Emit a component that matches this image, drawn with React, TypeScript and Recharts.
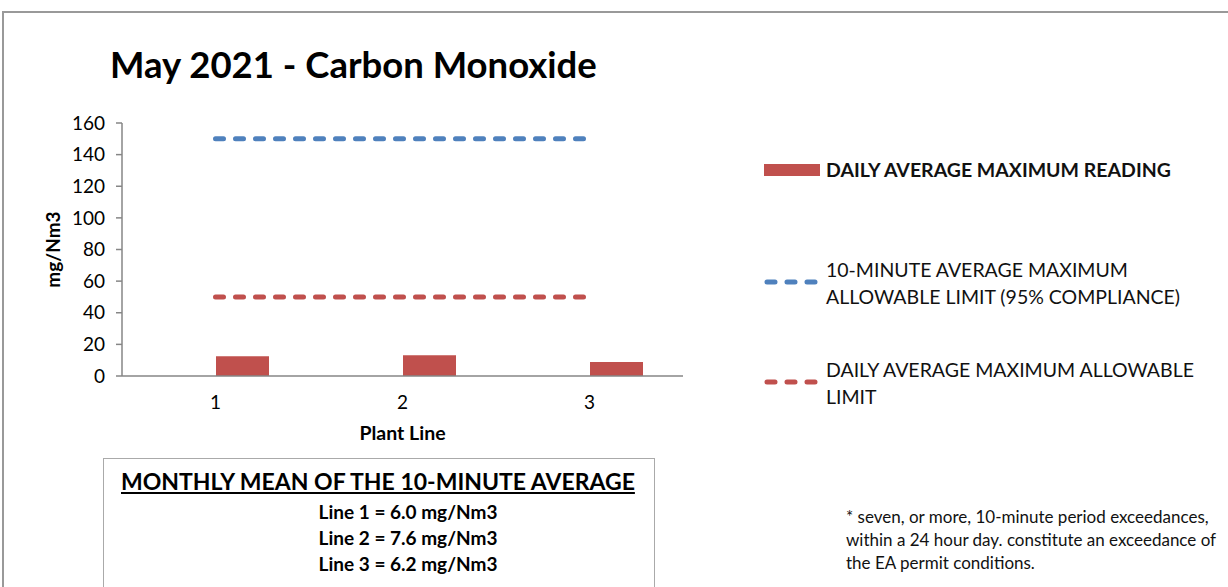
import React from "react"
import {
  ComposedChart,
  Bar,
  Line,
  XAxis,
  YAxis,
  Label,
} from "recharts"

// chart values
const plantLines = ["1", "2", "3"]
const dailyAvgMaxReading = [12.5, 13.2, 8.9]
const tenMinuteLimit = [150, 150, 150]
const dailyAvgLimit = [50, 50, 50]
const yTicks = [0, 20, 40, 60, 80, 100, 120, 140, 160]

const monthlyMeanLines = [
  "Line 1 = 6.0 mg/Nm3",
  "Line 2 = 7.6 mg/Nm3",
  "Line 3 = 6.2 mg/Nm3",
]

const RED = "#C0504D"
const BLUE = "#4F81BD"
const FONT = "Lato, 'Open Sans', sans-serif"

const chartData = plantLines.map((line, i) => ({
  line,
  spacer: 0,
  reading: dailyAvgMaxReading[i],
  tenMin: tenMinuteLimit[i],
  daily: dailyAvgLimit[i],
}))

/** legend drawn to look like the Excel one */
function ChartLegend() {
  const dash = (color: string) => (
    <svg width={58} height={8} style={{ flexShrink: 0 }}>
      <line
        x1={3}
        y1={4}
        x2={55}
        y2={4}
        stroke={color}
        strokeWidth={5}
        strokeDasharray="8 12"
        strokeLinecap="round"
      />
    </svg>
  )
  return (
    <div style={{ fontFamily: FONT, fontSize: 19.5, color: "#111", lineHeight: "27px" }}>
      <div style={{ display: "flex", alignItems: "center", height: 27 }}>
        <div style={{ width: 56, height: 12, background: RED, marginRight: 6 }} />
        <span style={{ fontWeight: 700 }}>DAILY AVERAGE MAXIMUM READING</span>
      </div>
      <div style={{ display: "flex", alignItems: "flex-start", marginTop: 73 }}>
        <div style={{ paddingTop: 9, marginRight: 4 }}>{dash(BLUE)}</div>
        <span>
          10-MINUTE AVERAGE MAXIMUM
          <br />
          ALLOWABLE LIMIT (95% COMPLIANCE)
        </span>
      </div>
      <div style={{ display: "flex", alignItems: "flex-start", marginTop: 46 }}>
        <div style={{ paddingTop: 9, marginRight: 4 }}>{dash(RED)}</div>
        <span>
          DAILY AVERAGE MAXIMUM ALLOWABLE
          <br />
          LIMIT
        </span>
      </div>
    </div>
  )
}

export default function App() {
  return (
    <div
      style={{
        position: "absolute",
        left: 0,
        top: 0,
        width: 1228,
        height: 587,
        background: "#fff",
        overflow: "hidden",
        fontFamily: FONT,
      }}
    >
      {/* outer frame */}
      <div
        style={{
          position: "absolute",
          left: 2,
          top: 11,
          width: 1240,
          height: 600,
          border: "2px solid #999",
          borderRight: "none",
          borderBottom: "none",
        }}
      />

      <div
        style={{
          position: "absolute",
          left: 110,
          top: 42,
          fontSize: 36.5,
          fontWeight: 700,
          color: "#000",
          whiteSpace: "nowrap",
        }}
      >
        May 2021 - Carbon Monoxide
      </div>

      <div style={{ position: "absolute", left: 0, top: 0 }}>
        <ComposedChart
          width={700}
          height={460}
          data={chartData}
          margin={{ top: 123, right: 17, left: 0, bottom: 0 }}
          barGap={0}
          barCategoryGap={40}
        >
          <XAxis
            dataKey="line"
            height={84}
            tickLine={false}
            axisLine={{ stroke: "#868686", strokeWidth: 1.5 }}
            tick={{ fontSize: 19, fill: "#000", fontFamily: FONT }}
            tickMargin={14}
          >
            <Label
              value="Plant Line"
              position="insideTop"
              offset={50}
              style={{ fontSize: 19.5, fontWeight: 700, fill: "#000", fontFamily: FONT }}
            />
          </XAxis>
          <YAxis
            width={122}
            domain={[0, 160]}
            ticks={yTicks}
            interval={0}
            tickSize={6}
            tickMargin={11}
            axisLine={{ stroke: "#868686", strokeWidth: 1.5 }}
            tickLine={{ stroke: "#868686", strokeWidth: 1.5 }}
            tick={{ fontSize: 19, fill: "#000", fontFamily: FONT }}
          >
            <Label
              value="mg/Nm3"
              angle={-90}
              position="insideLeft"
              offset={53}
              style={{
                fontSize: 19,
                fontWeight: 700,
                fill: "#000",
                fontFamily: FONT,
                textAnchor: "middle",
              }}
            />
          </YAxis>
          <Bar dataKey="spacer" fill="transparent" barSize={53} isAnimationActive={false} legendType="none" />
          <Bar dataKey="reading" fill={RED} barSize={53} isAnimationActive={false} />
          <Line
            dataKey="tenMin"
            stroke={BLUE}
            strokeWidth={5}
            strokeDasharray="8 12"
            strokeLinecap="round"
            dot={false}
            activeDot={false}
            isAnimationActive={false}
          />
          <Line
            dataKey="daily"
            stroke={RED}
            strokeWidth={5}
            strokeDasharray="8 12"
            strokeLinecap="round"
            dot={false}
            activeDot={false}
            isAnimationActive={false}
          />
        </ComposedChart>
      </div>

      <div style={{ position: "absolute", left: 764, top: 156, width: 464 }}>
        <ChartLegend />
      </div>

      {/* monthly mean box */}
      <div
        style={{
          position: "absolute",
          left: 103,
          top: 458,
          width: 552,
          height: 140,
          border: "1.5px solid #aaa",
          boxSizing: "border-box",
        }}
      >
        <div
          style={{
            position: "absolute",
            left: 17,
            top: 8,
            fontSize: 23,
            fontWeight: 700,
            textDecoration: "underline",
            whiteSpace: "nowrap",
            color: "#000",
          }}
        >
          MONTHLY MEAN OF THE 10-MINUTE AVERAGE
        </div>
        {monthlyMeanLines.map((text, i) => (
          <div
            key={text}
            style={{
              position: "absolute",
              left: 0,
              width: 608,
              textAlign: "center",
              top: 41 + i * 26,
              fontSize: 19,
              fontWeight: 700,
              color: "#000",
            }}
          >
            {text}
          </div>
        ))}
      </div>

      {/* footnote */}
      <div
        style={{
          position: "absolute",
          left: 846,
          top: 505,
          fontSize: 17,
          lineHeight: "23px",
          color: "#111",
          whiteSpace: "nowrap",
        }}
      >
        * seven, or more, 10-minute period exceedances,
        <br />
        within a 24 hour day. constitute an exceedance of
        <br />
        the EA permit conditions.
      </div>
    </div>
  )
}
